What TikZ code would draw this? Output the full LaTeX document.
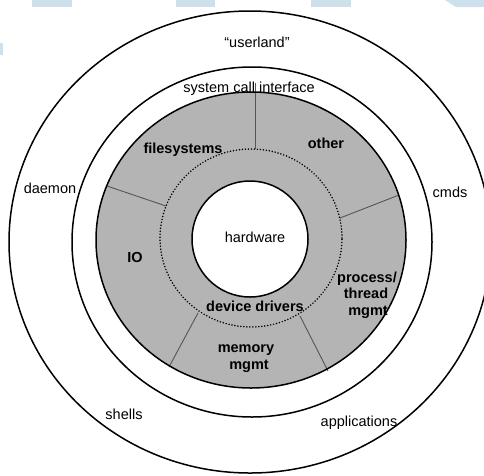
\documentclass[tikz,border=0pt]{standalone}
\usepackage{fontspec}
\setmainfont{Liberation Sans}
\definecolor{ringgray}{RGB}{180,180,180}
\definecolor{wmblue}{RGB}{205,225,237}
\definecolor{spokecol}{RGB}{85,85,85}
\begin{document}
\begin{tikzpicture}[x=1pt,y=-1pt,
  ring/.style={draw=black,line width=1.5pt},
  spoke/.style={draw=spokecol,line width=0.9pt},
  dotring/.style={draw=black,line width=1.7pt,line cap=round,dash pattern=on 0pt off 3pt},
  lbl/.style={font=\fontsize{14.5}{16}\selectfont,anchor=base,inner sep=0pt},
  blbl/.style={font=\fontsize{14.5}{16}\selectfont\bfseries,anchor=base,inner sep=0pt},
  wm/.style={fill=wmblue}
]
\useasboundingbox (0,0) rectangle (484,475);
% light blue marks at the top edge
\fill[wm] (32,0) rectangle (72,7);
\fill[wm] (176,0) rectangle (215,7);
\fill[wm] (311,0) rectangle (351,7);
\fill[wm] (445,0) -- (484,0) -- (484,7) -- (456,7) -- cycle;
\fill[wm] (0,43) rectangle (3,55);
% centres
\coordinate (cOuter) at (250,242);
\coordinate (cSys) at (252,242);
\coordinate (cKern) at (251,240);
\coordinate (cDot) at (251,238);
\coordinate (cHw) at (250,239);
% kernel ring fill
\fill[ringgray,even odd rule] (cKern) ellipse [x radius=155pt,y radius=148pt]
  (cHw) circle [radius=58pt];
% spokes
\coordinate (s1a) at (255,83);  \coordinate (s1b) at (255,149);
\coordinate (s2a) at (107,186); \coordinate (s2b) at (166,206);
\coordinate (s3a) at (399,195); \coordinate (s3b) at (340,218);
\coordinate (s4a) at (169,367); \coordinate (s4b) at (198,313);
\coordinate (s5a) at (328,371); \coordinate (s5b) at (300,316);
\draw[spoke] (s1a) -- (s1b);
\draw[spoke] (s2a) -- (s2b);
\draw[spoke] (s3a) -- (s3b);
\draw[spoke] (s4a) -- (s4b);
\draw[spoke] (s5a) -- (s5b);
% rings
\draw[ring] (cOuter) ellipse [x radius=241pt,y radius=231pt];
\draw[ring] (cSys) ellipse [x radius=180pt,y radius=175pt];
\draw[ring] (cKern) ellipse [x radius=155pt,y radius=148pt];
\draw[ring,fill=white] (cHw) circle [radius=58pt];
\draw[dotring] (cDot) ellipse [x radius=91pt,y radius=89pt];
% labels
\node[lbl] (userland) at (257,47) {“userland”};
\node[lbl] (sci) at (249,92) {system call interface};
\node[lbl] (hw) at (255,242) {hardware};
\node[lbl] (daemon) at (50,193) {daemon};
\node[lbl] (cmds) at (450,197) {cmds};
\node[lbl] (shells) at (124,419) {shells};
\node[lbl] (apps) at (359,426) {applications};
\node[blbl] (fs) at (183,153) {filesystems};
\node[blbl] (other) at (326,148) {other};
\node[blbl] (io) at (135,262) {IO};
\node[blbl] (dd) at (255,311) {device drivers};
\node[blbl] (pt1) at (367,282) {process/};
\node[blbl] (pt2) at (366,298) {thread};
\node[blbl] (pt3) at (368,315) {mgmt};
\node[blbl] (mm1) at (246,352) {memory};
\node[blbl] (mm2) at (249,369) {mgmt};
\end{tikzpicture}
\end{document}
